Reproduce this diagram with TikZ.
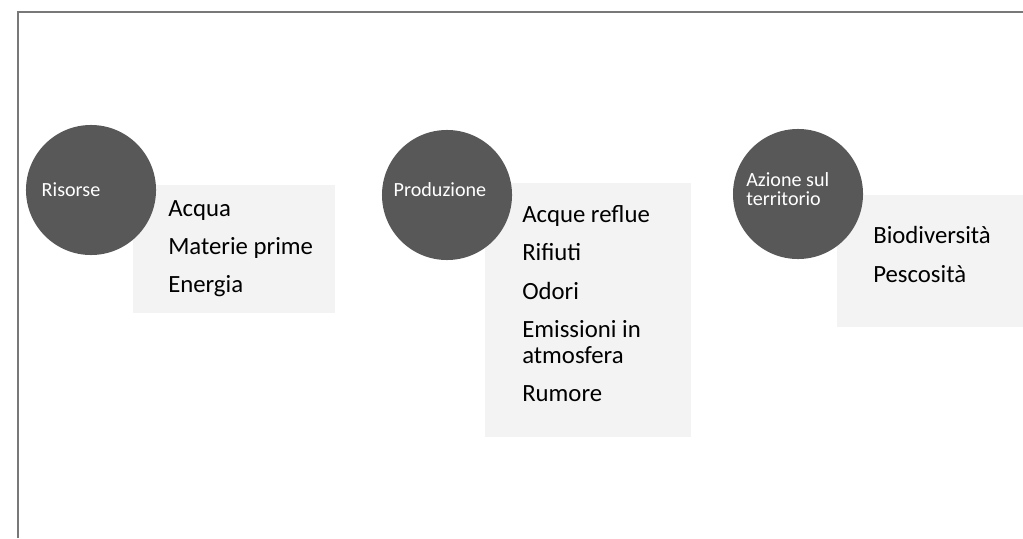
\documentclass[tikz,border=0pt]{standalone}
\usepackage{fontspec}
\setmainfont{Carlito}
\usepackage{tikz}
\usetikzlibrary{positioning}
\definecolor{disc1}{RGB}{88,88,88}
\definecolor{list1}{RGB}{243,243,243}
\definecolor{frame1}{RGB}{120,120,120}

\begin{document}
\begin{tikzpicture}[x=0.025cm, y=-0.025cm,
    disc/.style={circle, fill=disc1, minimum size=3.25cm, inner sep=0pt},
    disclabel/.style={text=white, font=\fontsize{14.3}{15}\selectfont, align=left, inner sep=0pt},
    listbox/.style={fill=list1, inner sep=0pt},
    item/.style={anchor=base west, font=\fontsize{17.6}{20}\selectfont, inner sep=0pt}
]
        \useasboundingbox (0,0) rectangle (1023,538);

        % cornice della pagina
        \draw[frame1, line width=0.8pt] (18,538) -- (18,12) -- (1023,12);

        % riquadri degli elenchi
        \node[listbox, minimum width=5.05cm, minimum height=3.2cm, name=boxR] at(234,249) {};
        \node[listbox, minimum width=5.15cm, minimum height=6.35cm, name=boxP] at(588,310) {};
        \node[listbox, minimum width=5.2cm, minimum height=3.3cm, name=boxA] at(941,261) {};

        % cerchi
        \node[disc, name=risorse] at(91,190) {};
        \node[disclabel] at(71,190) {Risorse};
        \node[disc, name=produzione] at(447,195) {};
        \node[disclabel] at(440,190) {Produzione};
        \node[disc, name=azione] at(798,194) {};
        \node[disclabel, anchor=west] at(746,189) {Azione sul\\[-2pt]territorio};

        % Risorse
        \node[item, name=acqua] at(168,216) {Acqua};
        \node[item, name=materie] at(168,254) {Materie prime};
        \node[item, name=energia] at(168,292) {Energia};

        % Produzione
        \node[item, name=reflue] at(522,222) {Acque reflue};
        \node[item, name=rifiuti] at(522,260) {Rifiuti};
        \node[item, name=odori] at(522,299) {Odori};
        \node[item, name=emiss] at(522,337) {Emissioni in};
        \node[item, name=atmos] at(522,363) {atmosfera};
        \node[item, name=rumore] at(522,401) {Rumore};

        % Azione sul territorio
        \node[item, name=biodiv] at(873,243) {Biodiversità};
        \node[item, name=pesc] at(873,282) {Pescosità};

\end{tikzpicture}
\end{document}
